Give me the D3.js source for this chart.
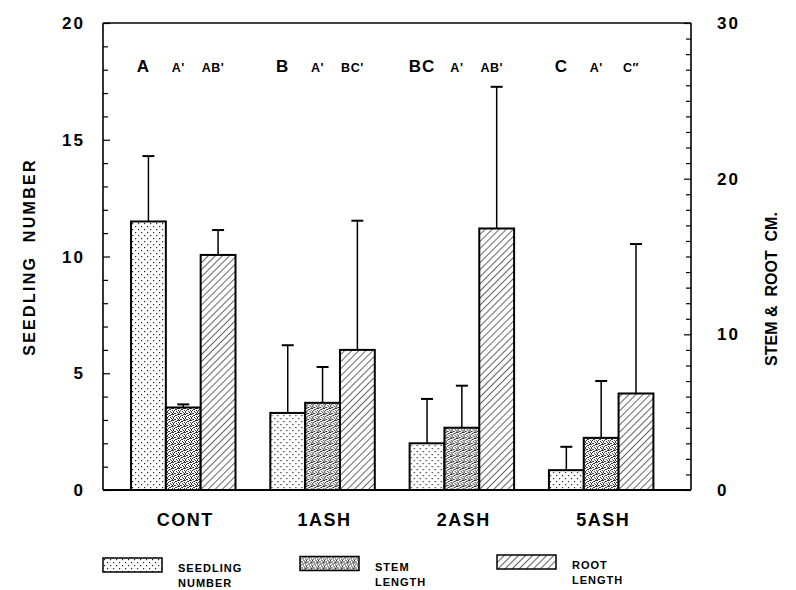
<!DOCTYPE html>
<html>
<head>
<meta charset="utf-8">
<script src="https://cdn.jsdelivr.net/npm/d3@7"></script>
<style>
  html, body { margin: 0; padding: 0; background: #fff; }
  svg { display: block; font-family: "Liberation Sans", Arial, Helvetica, sans-serif; font-weight: bold; }
</style>
</head>
<body>
<svg id="chart" width="796" height="590"></svg>
<script>
// ---------------- data ----------------
const categories = ["CONT", "1ASH", "2ASH", "5ASH"];
const seriesNames = ["SEEDLING NUMBER", "STEM LENGTH", "ROOT LENGTH"];
// seedling number (left axis)
const seedlingNumber = [11.5, 3.3, 2.0, 0.85];
const seedlingSD     = [2.8, 2.9, 1.9, 1.0];
// stem length, cm (right axis)
const stemLength = [5.3, 5.6, 4.0, 3.35];
const stemSD     = [0.2, 2.3, 2.7, 3.65];
// root length, cm (right axis)
const rootLength = [15.1, 9.0, 16.8, 6.2];
const rootSD     = [1.6, 8.3, 9.1, 9.6];
// significance letters
const seedlingLetters = ["A", "B", "BC", "C"];
const stemLetters     = ["A'", "A'", "A'", "A'"];
const rootLetters     = ["AB'", "BC'", "AB'", "C\u2033"];
// axis ticks
const leftTicks  = [0, 5, 10, 15, 20];
const rightTicks = [0, 10, 20, 30];

// ---------------- layout ----------------
const svg = d3.select("#chart");
const L = 103, R = 691, T = 23, B = 490;

const yL = d3.scaleLinear().domain([0, 20]).range([B, T]);
const yR = d3.scaleLinear().domain([0, 30]).range([B, T]);

const x0 = d3.scaleBand().domain(categories).range([L, R])
  .paddingInner(0.25).paddingOuter(0.2355).align(0.427);
const x1 = d3.scaleBand().domain(seriesNames).range([0, x0.bandwidth()]);

// ---------------- patterns ----------------
const defs = svg.append("defs");
// sparse dots
const pDots = defs.append("pattern").attr("id", "pSeed")
  .attr("patternUnits", "userSpaceOnUse").attr("width", 6).attr("height", 6);
pDots.append("rect").attr("width", 6).attr("height", 6).attr("fill", "#fff");
[[1, 1], [4, 4]].forEach(([a, b]) =>
  pDots.append("rect").attr("x", a).attr("y", b).attr("width", 1.2).attr("height", 1.2).attr("fill", "#222"));
// dense stipple
const pStip = defs.append("pattern").attr("id", "pStem")
  .attr("patternUnits", "userSpaceOnUse").attr("width", 6).attr("height", 6);
pStip.append("rect").attr("width", 6).attr("height", 6).attr("fill", "#fff");
[[0,0],[2,1],[4,0],[1,2],[3,3],[5,2],[0,4],[2,5],[4,4],[5,5],[1,5],[3,1],[5,0],[0,3]].forEach(([a, b]) =>
  pStip.append("rect").attr("x", a).attr("y", b).attr("width", 1).attr("height", 1).attr("fill", "#333"));
// diagonal hatch
const pHatch = defs.append("pattern").attr("id", "pRoot")
  .attr("patternUnits", "userSpaceOnUse").attr("width", 5).attr("height", 5)
  .attr("patternTransform", "rotate(45)");
pHatch.append("rect").attr("width", 5).attr("height", 5).attr("fill", "#fff");
pHatch.append("line").attr("x1", 0).attr("y1", 0).attr("x2", 0).attr("y2", 5)
  .attr("stroke", "#111").attr("stroke-width", 1.3);

const fills = ["url(#pSeed)", "url(#pStem)", "url(#pRoot)"];

// ---------------- bars ----------------
const rows = categories.map((c, i) => ({
  cat: c,
  items: [
    { s: seriesNames[0], v: seedlingNumber[i], sd: seedlingSD[i], y: yL, fill: fills[0], lab: seedlingLetters[i] },
    { s: seriesNames[1], v: stemLength[i],     sd: stemSD[i],     y: yR, fill: fills[1], lab: stemLetters[i] },
    { s: seriesNames[2], v: rootLength[i],     sd: rootSD[i],     y: yR, fill: fills[2], lab: rootLetters[i] }
  ]
}));

const groups = svg.append("g").selectAll("g").data(rows).join("g")
  .attr("transform", d => `translate(${x0(d.cat)},0)`);

// error bars (drawn first, bars on top)
groups.selectAll("g.err").data(d => d.items).join("g").attr("class", "err")
  .each(function(d) {
    const g = d3.select(this);
    const cx = x1(d.s) + x1.bandwidth() / 2;
    g.append("line").attr("x1", cx).attr("x2", cx)
      .attr("y1", d.y(d.v)).attr("y2", d.y(d.v + d.sd))
      .attr("stroke", "#000").attr("stroke-width", 1.5);
    g.append("line").attr("x1", cx - 6).attr("x2", cx + 6)
      .attr("y1", d.y(d.v + d.sd)).attr("y2", d.y(d.v + d.sd))
      .attr("stroke", "#000").attr("stroke-width", 2);
  });

groups.selectAll("rect.bar").data(d => d.items).join("rect").attr("class", "bar")
  .attr("x", d => x1(d.s))
  .attr("width", x1.bandwidth())
  .attr("y", d => d.y(d.v))
  .attr("height", d => B - d.y(d.v))
  .attr("fill", d => d.fill)
  .attr("stroke", "#000").attr("stroke-width", 2);

// significance letters
groups.selectAll("text.sig").data(d => d.items).join("text").attr("class", "sig")
  .attr("x", d => x1(d.s) + x1.bandwidth() / 2 - 5)
  .attr("y", 72)
  .attr("text-anchor", "middle")
  .attr("font-size", (d, i) => i === 0 ? 17 : 12.5)
  .attr("letter-spacing", (d, i) => i === 0 ? 1 : 0.5)
  .text(d => d.lab);

// ---------------- axes ----------------
const axL = d3.axisLeft(yL).tickValues(d3.range(0, 21, 1)).tickSize(-5).tickFormat("");
const axR = d3.axisRight(yR).tickValues(d3.range(0, 31, 1)).tickSize(-5).tickFormat("");
const gL = svg.append("g").attr("transform", `translate(${L},0)`).call(axL);
const gR = svg.append("g").attr("transform", `translate(${R},0)`).call(axR);
[gL, gR].forEach(g => {
  g.select(".domain").remove();
  g.selectAll(".tick line").attr("stroke", "#000").attr("stroke-width", 1.2);
});
gL.selectAll(".tick line").filter(d => d % 5 === 0).attr("x2", 7);
gR.selectAll(".tick line").filter(d => d % 10 === 0).attr("x2", -7);

// frame
svg.append("line").attr("x1", L).attr("x2", L).attr("y1", T).attr("y2", B).attr("stroke", "#000").attr("stroke-width", 1.6);
svg.append("line").attr("x1", R).attr("x2", R).attr("y1", T).attr("y2", B).attr("stroke", "#000").attr("stroke-width", 1.6);
svg.append("line").attr("x1", L).attr("x2", R).attr("y1", T).attr("y2", T).attr("stroke", "#000").attr("stroke-width", 1.4);
svg.append("line").attr("x1", L).attr("x2", R).attr("y1", B).attr("y2", B).attr("stroke", "#000").attr("stroke-width", 2.2);

// tick labels
svg.append("g").selectAll("text").data(leftTicks).join("text")
  .attr("x", L - 18).attr("y", d => yL(d) + 6)
  .attr("text-anchor", "end").attr("font-size", 17).attr("letter-spacing", 2)
  .text(d => d);
svg.append("g").selectAll("text").data(rightTicks).join("text")
  .attr("x", R + 26).attr("y", d => yR(d) + 6)
  .attr("text-anchor", "start").attr("font-size", 17).attr("letter-spacing", 2)
  .text(d => d);

// axis titles
svg.append("text").attr("transform", `translate(35,257) rotate(-90)`)
  .attr("text-anchor", "middle").attr("font-size", 16).attr("letter-spacing", 2.3)
  .text("SEEDLING\u00a0\u00a0NUMBER");
svg.append("text").attr("transform", `translate(777,289) rotate(-90)`)
  .attr("text-anchor", "middle").attr("font-size", 16).attr("letter-spacing", 0)
  .text("STEM\u00a0&\u00a0\u00a0ROOT\u00a0\u00a0CM.");

// category labels
svg.append("g").selectAll("text").data(categories).join("text")
  .attr("x", d => x0(d) + x0.bandwidth() / 2 + 2)
  .attr("y", 526)
  .attr("text-anchor", "middle").attr("font-size", 18).attr("letter-spacing", 1.5)
  .text(d => d);

// ---------------- legend ----------------
const legendLabels = [["SEEDLING", "NUMBER"], ["STEM", "LENGTH"], ["ROOT", "LENGTH"]];
const legendX = d3.scalePoint().domain(seriesNames).range([103, 497]);
const lg = svg.append("g").selectAll("g").data(seriesNames).join("g")
  .attr("transform", (d, i) => `translate(${legendX(d)},${558 - 1.5 * i})`);
lg.append("rect").attr("width", 59).attr("height", 14)
  .attr("fill", (d, i) => fills[i]).attr("stroke", "#000").attr("stroke-width", 1.5);
lg.append("text").attr("x", 75).attr("y", 14).attr("font-size", 11).attr("letter-spacing", 1)
  .text((d, i) => legendLabels[i][0]);
lg.append("text").attr("x", 75).attr("y", 29).attr("font-size", 11).attr("letter-spacing", 1)
  .text((d, i) => legendLabels[i][1]);
</script>
</body>
</html>
